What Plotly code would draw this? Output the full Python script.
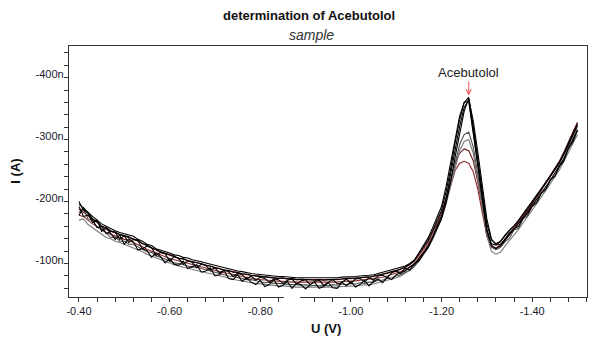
import numpy as np
import plotly.graph_objects as go

# Potential sweep (V), from -0.40 V to -1.50 V in 10 mV steps
U = np.round(np.arange(0, 111) * -0.01 - 0.40, 2)

# Currents (nA) of the overlaid voltammograms
SCAN_A = [-196,-189,-182,-176,-170,-164,-160,-156,-153,-150,
          -148,-145,-144,-139,-136,-131,-129,-124,-122,-119,
          -117,-114,-113,-110,-109,-106,-105,-103,-101,-99,
          -97,-95,-93,-91,-90,-88,-87,-85,-84,-83,
          -82,-81,-81,-80,-79,-79,-78,-78,-77,-77,
          -77,-76,-76,-76,-76,-76,-77,-77,-78,-78,
          -79,-79,-80,-80,-81,-82,-84,-85,-87,-89,
          -91,-93,-96,-100,-106,-116,-126,-137,-152,-170,
          -186,-216,-252,-295,-332,-360,-368,-322,-270,-216,
          -164,-138,-132,-136,-145,-153,-160,-169,-178,-188,
          -198,-209,-219,-229,-240,-251,-262,-276,-292,-306,-322]
SCAN_B = [-178,-190,-181,-166,-170,-152,-158,-149,-139,-146,
          -131,-140,-135,-122,-124,-121,-110,-117,-111,-101,
          -108,-99,-97,-104,-92,-95,-98,-86,-88,-93,
          -80,-82,-89,-76,-74,-82,-71,-77,-70,-66,
          -73,-63,-66,-74,-62,-65,-71,-60,-68,-66,
          -59,-66,-70,-60,-63,-69,-61,-60,-70,-64,
          -71,-62,-66,-73,-64,-71,-75,-69,-78,-74,
          -82,-85,-88,-95,-98,-108,-117,-128,-142,-160,
          -176,-205,-241,-283,-321,-352,-364,-316,-262,-208,
          -156,-130,-124,-128,-138,-147,-156,-160,-174,-180,
          -193,-199,-214,-220,-236,-241,-257,-266,-287,-297,-316]
SCAN_C = [-192,-176,-178,-170,-158,-160,-148,-152,-150,-139,
          -145,-134,-139,-137,-124,-128,-126,-113,-118,-116,
          -104,-111,-108,-99,-104,-102,-93,-99,-97,-89,
          -93,-85,-89,-87,-79,-84,-82,-75,-80,-73,
          -78,-76,-70,-75,-74,-68,-73,-75,-67,-72,
          -74,-66,-71,-73,-65,-70,-74,-67,-69,-75,
          -68,-75,-76,-70,-77,-73,-80,-81,-77,-85,
          -88,-84,-93,-90,-100,-104,-116,-125,-140,-155,
          -172,-198,-232,-272,-312,-346,-366,-330,-280,-226,
          -172,-140,-130,-131,-139,-149,-155,-165,-173,-183,
          -193,-204,-214,-224,-234,-246,-257,-270,-286,-301,-316]
SCAN_D = [-200,-186,-182,-172,-168,-160,-158,-153,-151,-147,
          -145,-143,-139,-138,-132,-130,-125,-123,-119,-117,
          -114,-112,-108,-108,-104,-103,-101,-100,-97,-96,
          -93,-92,-89,-89,-86,-86,-83,-83,-81,-80,
          -79,-79,-78,-77,-76,-77,-75,-76,-74,-75,
          -74,-74,-73,-74,-73,-74,-74,-75,-75,-76,
          -76,-77,-77,-78,-78,-80,-81,-83,-84,-87,
          -88,-91,-94,-99,-105,-117,-128,-141,-157,-175,
          -192,-224,-262,-304,-338,-360,-362,-310,-256,-202,
          -152,-132,-130,-135,-146,-154,-161,-170,-180,-190,
          -200,-210,-221,-231,-241,-253,-264,-278,-294,-309,-326]
SCAN_E = [-182,-190,-172,-170,-158,-156,-150,-142,-143,-136,
          -136,-131,-131,-127,-124,-119,-118,-112,-110,-107,
          -105,-101,-100,-98,-97,-94,-94,-92,-90,-87,
          -86,-84,-82,-80,-79,-77,-76,-74,-74,-72,
          -71,-69,-70,-68,-68,-67,-67,-66,-66,-65,
          -66,-64,-65,-64,-65,-64,-66,-65,-67,-66,
          -68,-67,-69,-68,-70,-70,-73,-73,-76,-77,
          -80,-82,-86,-89,-96,-104,-115,-126,-140,-157,
          -176,-202,-232,-266,-292,-308,-312,-288,-246,-200,
          -152,-128,-122,-126,-135,-141,-154,-157,-172,-177,
          -192,-197,-213,-218,-234,-240,-256,-265,-285,-296,-314]
SCAN_F = [-170,-172,-163,-158,-153,-148,-142,-140,-136,-134,
          -131,-128,-126,-122,-119,-115,-112,-109,-106,-103,
          -100,-98,-96,-94,-92,-90,-89,-87,-85,-84,
          -82,-80,-78,-76,-75,-73,-72,-70,-69,-68,
          -67,-66,-66,-65,-64,-64,-63,-63,-62,-62,
          -62,-61,-61,-61,-61,-61,-62,-62,-63,-63,
          -64,-64,-65,-65,-66,-67,-69,-70,-72,-74,
          -77,-80,-84,-89,-95,-104,-114,-125,-138,-155,
          -172,-196,-225,-256,-282,-297,-300,-278,-238,-192,
          -145,-120,-115,-118,-128,-138,-146,-155,-165,-175,
          -186,-196,-207,-218,-229,-240,-251,-265,-280,-295,-308]
SCAN_G = [-188,-183,-177,-172,-166,-160,-155,-152,-149,-146,
          -144,-142,-140,-136,-132,-128,-125,-122,-118,-116,
          -113,-111,-109,-107,-105,-103,-101,-100,-98,-96,
          -94,-92,-90,-88,-87,-85,-84,-82,-81,-80,
          -79,-78,-78,-77,-76,-76,-75,-75,-74,-74,
          -74,-73,-73,-73,-73,-73,-74,-74,-75,-75,
          -76,-76,-77,-77,-78,-79,-81,-82,-84,-86,
          -89,-91,-94,-98,-104,-113,-123,-134,-149,-166,
          -181,-206,-234,-262,-278,-285,-282,-266,-232,-190,
          -148,-128,-125,-130,-140,-149,-157,-166,-176,-186,
          -197,-208,-219,-230,-241,-253,-265,-280,-296,-311,-328]
SCAN_H = [-178,-176,-170,-164,-160,-154,-150,-147,-144,-141,
          -139,-137,-134,-130,-127,-123,-120,-116,-113,-111,
          -108,-106,-104,-102,-100,-98,-97,-95,-93,-91,
          -89,-87,-85,-84,-82,-80,-79,-78,-76,-75,
          -74,-74,-73,-72,-72,-71,-71,-70,-70,-70,
          -69,-69,-69,-69,-69,-70,-70,-70,-71,-71,
          -72,-72,-73,-74,-74,-75,-77,-78,-80,-82,
          -85,-87,-90,-94,-100,-109,-119,-130,-144,-161,
          -177,-200,-226,-250,-262,-265,-262,-248,-220,-183,
          -144,-126,-124,-129,-138,-147,-155,-164,-174,-184,
          -195,-206,-217,-228,-239,-251,-263,-277,-293,-308,-324]

# drawing order and colours: reddish scans underneath, grey, then black
SCANS = [SCAN_G, SCAN_H, SCAN_F, SCAN_E, SCAN_A, SCAN_B, SCAN_C, SCAN_D]
COLORS = ["#6e1616", "#8b2a2a", "#7a7a7a", "#505050",
          "#000000", "#000000", "#000000", "#000000"]

X_TICKS = [-0.40, -0.60, -0.80, -1.00, -1.20, -1.40]
X_LABELS = ["-0.40", "-0.60", "-0.80", "-1.00", "-1.20", "-1.40"]
Y_TICKS = [-100, -200, -300, -400]
Y_LABELS = ["-100n", "-200n", "-300n", "-400n"]

FONT = "Arial, 'Liberation Sans', sans-serif"

fig = go.Figure()
for s, c in zip(SCANS, COLORS):
    fig.add_trace(go.Scatter(x=U, y=s, mode="lines",
                             line=dict(color=c, width=1.1), showlegend=False,
                             hoverinfo="skip"))

# peak of the analyte (most negative current of all scans)
all_i = np.array(SCANS)
k = np.unravel_index(np.argmin(all_i), all_i.shape)
peak_u, peak_i = float(U[k[1]]), float(all_i[k])

axis_common = dict(showline=True, linecolor="#333333", linewidth=1.3,
                   mirror=True, ticks="outside", ticklen=4, tickwidth=1,
                   tickcolor="#333333", showgrid=False, zeroline=False,
                   tickfont=dict(family=FONT, size=11, color="#1a1a2a"))

# the page body has an 8 px margin, so the figure is made 8 px smaller
fig.update_layout(
    width=592, height=333,
    margin=dict(l=61, r=13, t=38, b=43.5),
    paper_bgcolor="white", plot_bgcolor="white",
    font=dict(family=FONT),
    xaxis=dict(range=[-0.378, -1.521], tickmode="array",
               tickvals=X_TICKS, ticktext=X_LABELS,
               minor=dict(tickmode="linear", tick0=0, dtick=0.04,
                          ticks="outside", ticklen=4, tickcolor="#333333"),
               **axis_common),
    yaxis=dict(range=[-46, -451], tickmode="array",
               tickvals=Y_TICKS, ticktext=Y_LABELS,
               ticklabelshift=3, ticklabelstandoff=-2,
               minor=dict(tickmode="linear", tick0=0, dtick=20,
                          ticks="outside", ticklen=4, tickcolor="#333333"),
               **axis_common),
    annotations=[
        dict(text="<b>determination of Acebutolol</b>", xref="paper", yref="paper",
             x=0.463, y=1, yshift=31, showarrow=False, xanchor="center",
             yanchor="middle",
             font=dict(family=FONT, size=13, color="#111111")),
        dict(text="<i>sample</i>", xref="paper", yref="paper",
             x=0.468, y=1, yshift=11, showarrow=False, xanchor="center",
             yanchor="middle",
             font=dict(family=FONT, size=14, color="#333333")),
        dict(text="<b>I (A)</b>", xref="paper", yref="paper", textangle=-90,
             x=-0.104, y=0.5, showarrow=False, xanchor="center",
             yanchor="middle",
             font=dict(family=FONT, size=13, color="#111111")),
        dict(text="<b>U (V)</b>", xref="paper", yref="paper",
             x=0.497, y=0, yshift=-31.5, showarrow=False, xanchor="center",
             yanchor="middle",
             font=dict(family=FONT, size=13, color="#111111")),
        dict(text="Acebutolol", x=peak_u, y=peak_i, xref="x", yref="y",
             showarrow=True, ax=0, ay=-25, arrowhead=5, arrowsize=1,
             arrowwidth=1, arrowcolor="#ef5350", standoff=2,
             font=dict(family=FONT, size=13, color="#222222")),
    ],
    shapes=[
        dict(type="rect", xref="x", yref="paper", x0=-0.852, x1=-0.888,
             y0=-0.03, y1=0.004, fillcolor="white", line=dict(width=0),
             layer="above"),
    ],
)

fig.write_html("out.html")
